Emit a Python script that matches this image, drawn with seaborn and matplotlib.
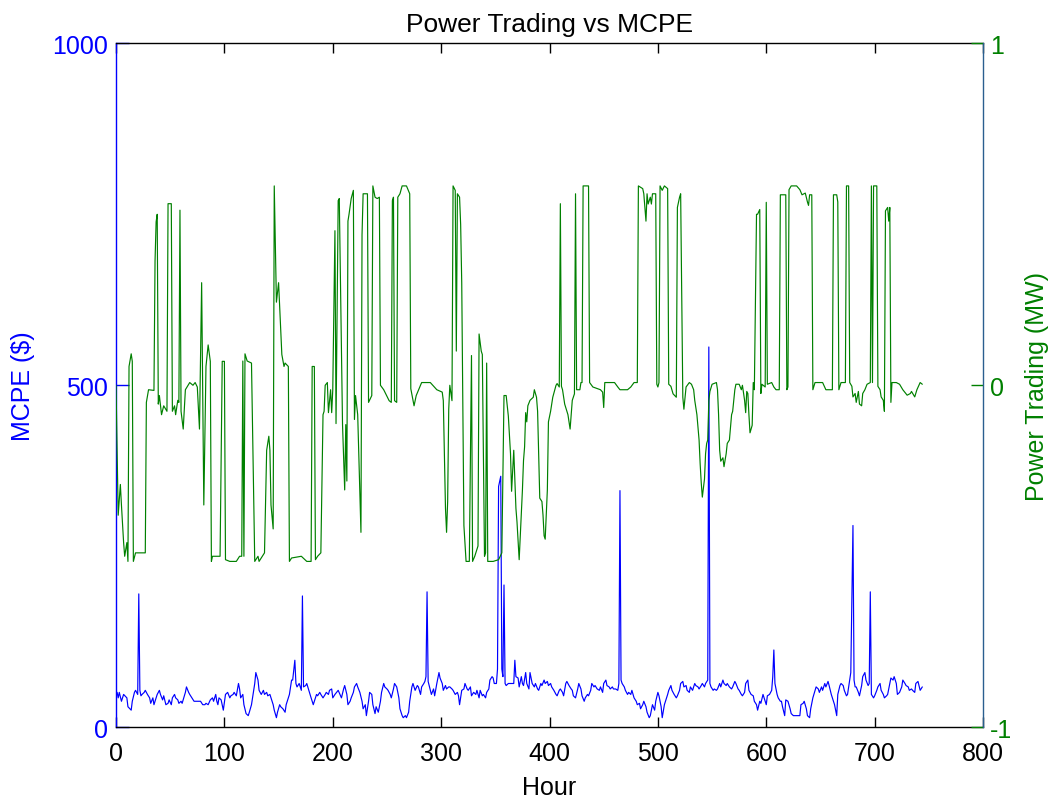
import matplotlib
matplotlib.use("Agg")
import matplotlib.pyplot as plt
import pandas as pd
import seaborn as sns

# ---------------- data ----------------
mcpe_hours = [
    0, 1, 2, 3, 5, 7, 10, 11, 14, 15,
    17, 18, 20, 21, 22, 23, 24, 26, 27, 29,
    31, 32, 34, 35, 37, 38, 40, 41, 43, 44,
    46, 48, 49, 51, 52, 54, 55, 57, 58, 60,
    61, 64, 65, 67, 68, 70, 72, 75, 78, 80,
    82, 83, 85, 87, 89, 90, 92, 93, 94, 95,
    97, 99, 101, 103, 105, 106, 108, 109, 111, 113,
    114, 115, 117, 118, 120, 122, 123, 125, 126, 128,
    129, 131, 132, 134, 136, 137, 139, 140, 142, 143,
    145, 146, 148, 149, 151, 152, 154, 156, 157, 159,
    160, 162, 163, 165, 166, 167, 169, 171, 172, 173,
    175, 176, 179, 180, 182, 183, 185, 186, 188, 189,
    191, 193, 194, 196, 197, 199, 200, 202, 205, 208,
    210, 211, 213, 214, 216, 217, 219, 220, 222, 223,
    225, 227, 228, 230, 231, 233, 234, 236, 237, 239,
    240, 242, 244, 245, 247, 248, 250, 251, 253, 254,
    256, 257, 259, 261, 262, 264, 265, 267, 268, 270,
    271, 273, 274, 276, 278, 279, 281, 282, 284, 285,
    286, 287, 288, 290, 291, 293, 294, 296, 298, 299,
    301, 302, 304, 305, 307, 308, 310, 311, 313, 315,
    316, 317, 319, 321, 322, 324, 325, 327, 328, 330,
    332, 333, 335, 336, 338, 339, 341, 342, 344, 345,
    347, 348, 349, 351, 352, 353, 355, 356, 357, 358,
    359, 360, 362, 365, 367, 368, 369, 371, 372, 374,
    375, 376, 378, 379, 381, 382, 384, 386, 387, 389,
    390, 392, 393, 395, 396, 398, 399, 401, 402, 404,
    406, 407, 409, 410, 412, 413, 415, 416, 418, 420,
    421, 422, 424, 426, 427, 429, 430, 432, 433, 435,
    436, 438, 439, 441, 442, 444, 446, 447, 449, 450,
    452, 453, 455, 456, 458, 459, 461, 463, 464, 465,
    466, 467, 469, 470, 472, 473, 475, 476, 478, 480,
    481, 483, 484, 486, 487, 489, 490, 492, 493, 495,
    497, 498, 500, 501, 503, 504, 506, 507, 509, 510,
    512, 513, 515, 517, 518, 520, 521, 523, 524, 526,
    527, 529, 530, 532, 534, 535, 537, 538, 540, 541,
    543, 544, 546, 547, 548, 549, 551, 552, 554, 555,
    557, 558, 560, 561, 563, 564, 566, 568, 569, 571,
    572, 574, 575, 577, 578, 580, 581, 583, 584, 586,
    588, 589, 591, 592, 594, 595, 597, 598, 600, 601,
    603, 605, 606, 607, 608, 610, 611, 613, 614, 615,
    617, 618, 620, 622, 623, 625, 628, 631, 632, 634,
    635, 637, 638, 640, 641, 643, 645, 646, 648, 649,
    651, 652, 654, 655, 657, 658, 660, 661, 663, 665,
    666, 668, 669, 671, 672, 674, 675, 677, 678, 680,
    681, 682, 683, 685, 686, 688, 689, 691, 692, 694,
    695, 696, 697, 699, 700, 702, 703, 705, 706, 708,
    709, 711, 712, 714, 715, 717, 718, 720, 721, 723,
    725, 726, 728, 729, 731, 732, 734, 735, 737, 738,
    740, 742, 744,
]
mcpe_values = [
    48, 51, 43, 51, 38, 48, 43, 30, 25, 38,
    51, 54, 48, 195, 54, 46, 48, 51, 54, 48,
    43, 35, 43, 33, 43, 48, 54, 48, 40, 46,
    33, 35, 40, 33, 43, 48, 43, 40, 35, 38,
    35, 51, 59, 51, 48, 43, 38, 38, 38, 33,
    33, 35, 33, 40, 43, 38, 48, 38, 33, 43,
    40, 25, 48, 51, 43, 46, 48, 51, 46, 64,
    56, 43, 48, 33, 20, 17, 22, 33, 43, 64,
    80, 69, 54, 48, 54, 48, 51, 46, 48, 43,
    33, 25, 14, 22, 33, 30, 27, 22, 33, 43,
    48, 69, 69, 98, 64, 59, 64, 54, 192, 59,
    61, 64, 48, 43, 33, 38, 48, 46, 51, 48,
    43, 48, 51, 48, 54, 56, 43, 48, 54, 43,
    56, 61, 48, 33, 38, 43, 51, 59, 64, 59,
    51, 38, 27, 33, 17, 38, 51, 48, 33, 20,
    30, 22, 38, 51, 64, 59, 56, 54, 48, 43,
    56, 64, 59, 43, 27, 17, 14, 17, 14, 22,
    38, 59, 64, 54, 61, 59, 48, 59, 64, 67,
    74, 198, 67, 54, 48, 56, 46, 64, 80, 72,
    64, 54, 61, 56, 59, 59, 56, 54, 48, 51,
    46, 33, 54, 56, 64, 56, 54, 59, 46, 51,
    48, 54, 43, 54, 46, 48, 43, 51, 56, 69,
    74, 72, 64, 64, 85, 352, 367, 85, 74, 208,
    64, 61, 64, 64, 64, 98, 74, 72, 59, 74,
    64, 61, 80, 64, 56, 80, 64, 59, 64, 56,
    54, 64, 61, 69, 64, 67, 61, 64, 59, 54,
    48, 46, 54, 56, 51, 46, 64, 67, 61, 56,
    54, 46, 43, 56, 64, 56, 46, 38, 43, 48,
    46, 54, 64, 59, 61, 56, 54, 59, 51, 64,
    69, 61, 59, 56, 59, 56, 56, 54, 64, 346,
    69, 64, 59, 54, 48, 51, 48, 54, 43, 38,
    33, 35, 27, 33, 38, 30, 22, 14, 17, 33,
    25, 38, 51, 46, 30, 14, 33, 38, 48, 54,
    61, 54, 48, 43, 46, 54, 64, 67, 59, 61,
    54, 51, 59, 54, 64, 61, 59, 56, 61, 64,
    59, 64, 69, 556, 64, 59, 54, 56, 54, 56,
    64, 59, 69, 64, 61, 64, 59, 56, 59, 67,
    64, 56, 54, 48, 46, 51, 64, 69, 54, 48,
    46, 38, 33, 25, 38, 35, 48, 43, 33, 46,
    48, 54, 74, 113, 64, 48, 43, 38, 38, 30,
    17, 40, 38, 27, 20, 17, 17, 17, 33, 35,
    38, 27, 17, 14, 27, 43, 54, 59, 56, 51,
    59, 54, 64, 59, 67, 61, 48, 43, 33, 17,
    48, 61, 64, 61, 54, 46, 48, 69, 80, 295,
    69, 59, 59, 51, 46, 61, 74, 80, 69, 61,
    64, 198, 48, 43, 46, 54, 59, 64, 54, 48,
    43, 46, 48, 64, 72, 69, 74, 64, 48, 51,
    59, 69, 64, 61, 59, 54, 56, 54, 51, 64,
    67, 54, 59,
]

trade_hours = [
    0, 2, 4, 5, 7, 8, 10, 11, 12, 14,
    15, 16, 18, 27, 28, 30, 35, 36, 37, 38,
    39, 40, 42, 44, 47, 48, 51, 52, 54, 55,
    57, 58, 59, 60, 62, 64, 68, 71, 73, 75,
    77, 79, 81, 83, 85, 87, 88, 89, 96, 98,
    100, 101, 105, 111, 114, 116, 117, 118, 119, 121,
    125, 128, 131, 132, 135, 137, 139, 141, 142, 143,
    145, 146, 148, 150, 153, 155, 156, 159, 160, 162,
    171, 176, 180, 181, 183, 184, 186, 189, 191, 192,
    193, 195, 196, 198, 199, 200, 202, 203, 205, 206,
    208, 209, 211, 212, 213, 214, 215, 217, 219, 220,
    221, 223, 226, 227, 228, 232, 233, 236, 237, 239,
    241, 243, 244, 247, 252, 254, 255, 256, 257, 259,
    260, 262, 264, 268, 271, 272, 275, 277, 282, 285,
    290, 296, 301, 302, 304, 305, 306, 307, 308, 310,
    311, 313, 314, 315, 317, 318, 319, 321, 323, 326,
    328, 329, 331, 334, 335, 337, 338, 340, 341, 342,
    343, 348, 353, 356, 358, 360, 362, 364, 365, 367,
    369, 370, 372, 375, 376, 377, 378, 379, 380, 382,
    385, 386, 388, 389, 391, 393, 394, 395, 396, 398,
    399, 401, 403, 406, 407, 409, 410, 411, 412, 414,
    417, 419, 421, 423, 424, 425, 428, 429, 430, 431,
    436, 437, 440, 447, 449, 450, 451, 460, 463, 465,
    472, 475, 478, 481, 482, 486, 487, 489, 490, 491,
    493, 494, 495, 498, 499, 500, 501, 502, 504, 506,
    509, 510, 512, 514, 517, 518, 520, 521, 523, 524,
    526, 529, 531, 533, 534, 536, 538, 539, 540, 541,
    543, 544, 545, 546, 547, 548, 550, 554, 555, 556,
    557, 558, 560, 561, 563, 564, 566, 568, 569, 571,
    572, 575, 577, 578, 580, 581, 582, 583, 584, 585,
    587, 588, 589, 591, 592, 594, 595, 596, 599, 600,
    601, 605, 607, 609, 612, 613, 618, 619, 620, 621,
    623, 628, 631, 633, 636, 638, 639, 640, 642, 643,
    645, 652, 655, 661, 662, 665, 666, 667, 669, 673,
    674, 676, 677, 679, 680, 682, 683, 685, 686, 688,
    689, 691, 693, 696, 697, 698, 699, 702, 703, 705,
    706, 708, 709, 710, 712, 713, 714, 715, 716, 720,
    723, 726, 730, 733, 734, 737, 739, 742, 744,
]
trade_values = [
    0.0, -0.38, -0.29, -0.35, -0.46, -0.50, -0.46, -0.515, 0.055, 0.092,
    0.07, -0.515, -0.49, -0.49, -0.05, -0.013, -0.015, 0.363, 0.478, 0.50,
    -0.055, -0.03, -0.086, -0.06, -0.076, 0.531, 0.531, -0.076, -0.06, -0.086,
    -0.044, -0.05, 0.512, -0.076, -0.128, -0.013, 0.008, 0.0, 0.008, -0.005,
    -0.128, 0.30, -0.35, 0.055, 0.118, 0.07, -0.515, -0.50, -0.50, 0.07,
    0.07, -0.51, -0.515, -0.515, -0.50, -0.50, 0.071, -0.50, 0.092, 0.071,
    0.065, -0.515, -0.50, -0.515, -0.50, -0.49, -0.19, -0.149, -0.19, -0.35,
    -0.42, 0.583, 0.243, 0.30, 0.09, 0.055, 0.065, 0.055, -0.515, -0.505,
    -0.50, -0.515, -0.515, 0.055, 0.055, -0.51, -0.50, -0.49, -0.086, -0.076,
    0.0, 0.008, -0.08, -0.013, -0.08, -0.013, 0.452, -0.112, 0.54, 0.546,
    0.10, -0.115, -0.306, -0.115, -0.28, 0.48, 0.50, 0.546, 0.57, -0.10,
    -0.03, -0.086, -0.43, 0.44, 0.56, 0.56, -0.05, -0.03, 0.583, 0.55,
    0.546, 0.55, 0.0, -0.013, -0.045, -0.05, 0.54, 0.55, -0.045, -0.05,
    0.55, 0.56, 0.583, 0.583, 0.56, -0.01, -0.06, -0.03, 0.008, 0.008,
    0.008, -0.013, -0.02, -0.045, -0.36, -0.43, -0.34, -0.07, 0.0, -0.045,
    0.583, 0.57, 0.10, 0.56, 0.55, 0.47, 0.30, -0.41, -0.515, -0.515,
    0.087, -0.515, -0.50, -0.47, 0.15, 0.10, 0.09, -0.50, -0.49, 0.065,
    -0.515, -0.515, -0.51, -0.49, -0.03, -0.03, -0.09, -0.20, -0.31, -0.19,
    -0.36, -0.40, -0.51, -0.306, -0.22, -0.18, -0.08, -0.107, -0.06, -0.044,
    -0.035, -0.013, -0.035, -0.076, -0.33, -0.34, -0.38, -0.44, -0.45, -0.306,
    -0.107, -0.076, -0.035, 0.0, 0.005, -0.005, 0.531, -0.003, -0.013, -0.055,
    -0.086, -0.128, -0.044, -0.025, 0.56, -0.013, -0.013, 0.008, 0.008, 0.583,
    0.583, 0.008, -0.005, -0.013, -0.02, -0.065, 0.008, 0.008, -0.005, -0.013,
    -0.013, -0.005, 0.008, 0.008, 0.583, 0.575, 0.56, 0.48, 0.56, 0.53,
    0.55, 0.53, 0.56, 0.56, 0.003, -0.005, 0.008, 0.583, 0.57, 0.583,
    0.575, 0.003, -0.003, -0.025, -0.035, 0.52, 0.55, 0.56, -0.035, -0.07,
    -0.005, 0.008, 0.003, -0.013, -0.044, -0.086, -0.16, -0.23, -0.285, -0.327,
    -0.274, -0.20, -0.17, -0.16, -0.044, -0.018, 0.003, 0.008, -0.013, -0.086,
    -0.19, -0.222, -0.212, -0.238, -0.20, -0.17, -0.16, -0.086, -0.076, -0.013,
    0.003, 0.003, -0.013, 0.0, -0.044, -0.08, -0.018, -0.024, -0.086, -0.139,
    -0.117, 0.008, -0.013, 0.50, 0.50, 0.514, -0.024, 0.003, -0.005, 0.535,
    0.003, 0.008, -0.005, -0.013, -0.013, 0.557, 0.557, -0.013, -0.005, 0.572,
    0.583, 0.583, 0.572, 0.557, 0.562, 0.536, 0.526, 0.557, 0.557, -0.013,
    0.008, 0.008, -0.013, -0.013, 0.557, 0.557, 0.536, -0.013, 0.008, 0.008,
    0.583, 0.583, 0.008, -0.003, -0.034, -0.024, -0.05, -0.018, -0.055, -0.06,
    -0.024, -0.013, 0.003, 0.008, 0.583, 0.008, 0.583, 0.583, -0.003, -0.013,
    -0.034, -0.044, -0.076, 0.51, 0.52, 0.48, 0.52, -0.05, 0.008, 0.008,
    0.003, -0.013, -0.029, -0.024, -0.018, -0.034, -0.013, 0.008, 0.003,
]

hour_ticks = [0, 100, 200, 300, 400, 500, 600, 700, 800]
mcpe_ticks = [0, 500, 1000]
trade_ticks = [-1, 0, 1]

title_text = "Power Trading vs MCPE"
x_label = "Hour"
left_label = "MCPE ($)"
right_label = "Power Trading (MW)"

# ---------------- style ----------------
BLUE = "#0000FF"
GREEN = "#008000"
FS = 18
FS_TITLE = 19

sns.set_style("white")
plt.rcParams["font.family"] = ["Liberation Sans", "DejaVu Sans"]
plt.rcParams["axes.unicode_minus"] = False

fig = plt.figure(figsize=(10.5, 8.04), dpi=100)
ax1 = fig.add_axes([0.1105, 0.0942, 0.8257, 0.8507])
ax2 = ax1.twinx()

df_mcpe = pd.DataFrame({"Hour": mcpe_hours, "MCPE": mcpe_values})
df_trade = pd.DataFrame({"Hour": trade_hours, "Trade": trade_values})

sns.lineplot(data=df_mcpe, x="Hour", y="MCPE", ax=ax1, color=BLUE,
             linewidth=0.85, estimator=None, sort=False, legend=False)
sns.lineplot(data=df_trade, x="Hour", y="Trade", ax=ax2, color=GREEN,
             linewidth=0.85, estimator=None, sort=False, legend=False)

ax1.set_xlim(hour_ticks[0], hour_ticks[-1])
ax1.set_ylim(mcpe_ticks[0], mcpe_ticks[-1])
ax2.set_ylim(trade_ticks[0], trade_ticks[-1])

ax1.set_xticks(hour_ticks)
ax1.set_xticklabels([str(t) for t in hour_ticks])
ax1.set_yticks(mcpe_ticks)
ax1.set_yticklabels([str(t) for t in mcpe_ticks])
ax2.set_yticks(trade_ticks)
ax2.set_yticklabels([str(t) for t in trade_ticks])

ax1.tick_params(axis="x", direction="in", length=7, width=1, color="black",
                labelcolor="black", labelsize=FS, top=True, bottom=True, pad=10)
ax1.tick_params(axis="y", direction="in", length=9, width=1, color=BLUE,
                labelcolor=BLUE, labelsize=FS, left=True, right=False, pad=6)
ax2.tick_params(axis="y", direction="in", length=9, width=1, color=GREEN,
                labelcolor=GREEN, labelsize=FS, right=True, left=False, pad=5)

for s in ["top", "bottom"]:
    ax1.spines[s].set_color("black")
    ax1.spines[s].set_linewidth(1)
ax1.spines["left"].set_color(BLUE)
ax1.spines["left"].set_linewidth(1)
ax1.spines["right"].set_visible(False)
for s in ["top", "bottom", "left"]:
    ax2.spines[s].set_visible(False)
ax2.spines["right"].set_color("#2a5f8f")
ax2.spines["right"].set_linewidth(1)

ax1.set_title(title_text, fontsize=FS_TITLE, color="black", pad=9)
ax1.set_xlabel(x_label, fontsize=FS, color="black", labelpad=7)
ax1.set_ylabel(left_label, fontsize=FS, color=BLUE)
ax2.set_ylabel(right_label, fontsize=FS, color=GREEN)
ax1.yaxis.set_label_coords(-0.093, 0.5)
ax2.yaxis.set_label_coords(1.048, 0.5)

ax1.grid(False)
ax2.grid(False)

fig.savefig("out.png", dpi=100)
